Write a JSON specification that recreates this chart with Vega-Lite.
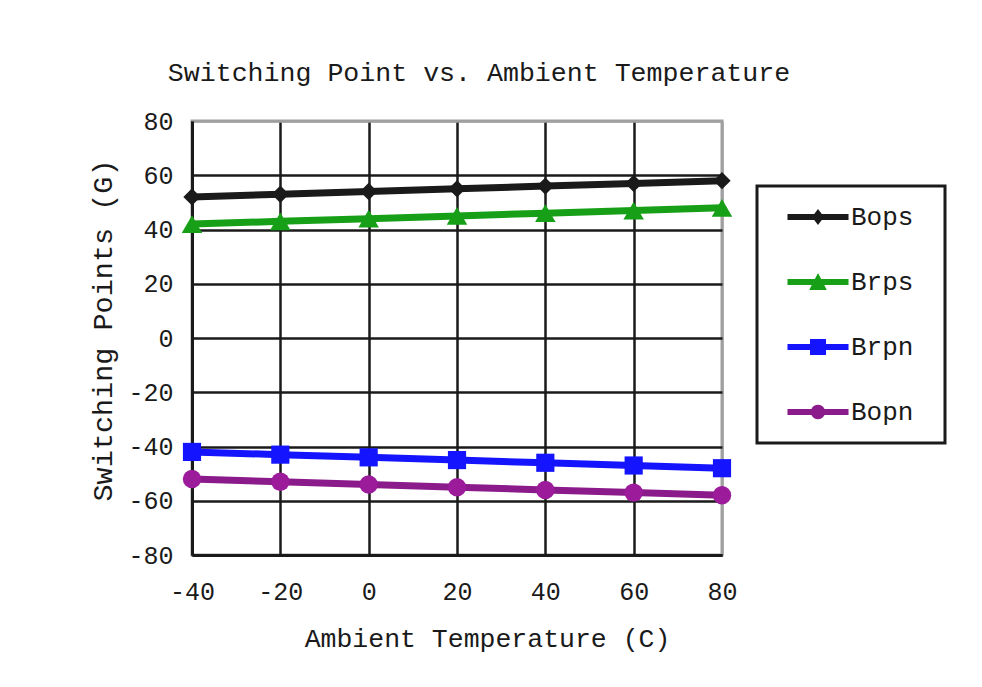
{
  "$schema": "https://vega.github.io/schema/vega-lite/v6.json",
  "width": 530,
  "height": 434,
  "autosize": {"type": "none"},
  "padding": {"left": 192, "top": 121, "right": 260, "bottom": 132},
  "background": "white",
  "title": {
    "text": "Switching Point vs. Ambient Temperature",
    "font": "Liberation Mono",
    "fontSize": 26.6,
    "fontWeight": "normal",
    "color": "#1a1a1a",
    "anchor": "middle",
    "dx": 22,
    "offset": 1,
    "baseline": "alphabetic"
  },
  "config": {
    "view": {"stroke": "#a0a0a0", "strokeWidth": 3},
    "font": "Liberation Mono",
    "axis": {
      "labelFont": "Liberation Mono",
      "labelFontSize": 25,
      "labelColor": "#1a1a1a",
      "labelFlush": false,
      "labelExpr": "toString(datum.value)",
      "titleFont": "Liberation Mono",
      "titleFontSize": 26.5,
      "titleFontWeight": "normal",
      "titleColor": "#1a1a1a",
      "domainColor": "#1a1a1a",
      "domainWidth": 3,
      "ticks": false,
      "grid": true,
      "gridWidth": 2.5,
      "gridOpacity": 1
    }
  },
  "data": {
    "values": [
      {"temp": -40, "series": "Bops", "value": 52},
      {"temp": -20, "series": "Bops", "value": 53},
      {"temp": 0, "series": "Bops", "value": 54},
      {"temp": 20, "series": "Bops", "value": 55},
      {"temp": 40, "series": "Bops", "value": 56},
      {"temp": 60, "series": "Bops", "value": 57},
      {"temp": 80, "series": "Bops", "value": 58},
      {"temp": -40, "series": "Brps", "value": 42},
      {"temp": -20, "series": "Brps", "value": 43},
      {"temp": 0, "series": "Brps", "value": 44},
      {"temp": 20, "series": "Brps", "value": 45},
      {"temp": 40, "series": "Brps", "value": 46},
      {"temp": 60, "series": "Brps", "value": 47},
      {"temp": 80, "series": "Brps", "value": 48},
      {"temp": -40, "series": "Brpn", "value": -42},
      {"temp": -20, "series": "Brpn", "value": -43},
      {"temp": 0, "series": "Brpn", "value": -44},
      {"temp": 20, "series": "Brpn", "value": -45},
      {"temp": 40, "series": "Brpn", "value": -46},
      {"temp": 60, "series": "Brpn", "value": -47},
      {"temp": 80, "series": "Brpn", "value": -48},
      {"temp": -40, "series": "Bopn", "value": -52},
      {"temp": -20, "series": "Bopn", "value": -53},
      {"temp": 0, "series": "Bopn", "value": -54},
      {"temp": 20, "series": "Bopn", "value": -55},
      {"temp": 40, "series": "Bopn", "value": -56},
      {"temp": 60, "series": "Bopn", "value": -57},
      {"temp": 80, "series": "Bopn", "value": -58}
    ]
  },
  "encoding": {
    "x": {
      "field": "temp",
      "type": "quantitative",
      "scale": {"domain": [-40, 80], "nice": false},
      "axis": {
        "values": [-40, -20, 0, 20, 40, 60, 80],
        "title": "Ambient Temperature (C)",
        "labelPadding": 24,
        "titleX": 295,
        "titleY": 91,
        "titleBaseline": "alphabetic",
        "titleAlign": "center",
        "gridColor": {"condition": {"test": "datum.value === 80", "value": "#a0a0a0"}, "value": "#1a1a1a"}
      }
    },
    "y": {
      "field": "value",
      "type": "quantitative",
      "scale": {"domain": [-80, 80], "nice": false},
      "axis": {
        "values": [-80, -60, -40, -20, 0, 20, 40, 60, 80],
        "title": "Switching Points (G)",
        "titleFontSize": 28.5,
        "labelPadding": 19,
        "titleX": -81,
        "titleY": 209,
        "titleAngle": -90,
        "titleBaseline": "alphabetic",
        "titleAlign": "center",
        "gridColor": {"condition": {"test": "datum.value === 80", "value": "#a0a0a0"}, "value": "#1a1a1a"}
      }
    }
  },
  "layer": [
    {
      "mark": {"type": "line", "strokeWidth": 7},
      "encoding": {
        "color": {
          "field": "series",
          "type": "nominal",
          "scale": {"domain": ["Bops", "Brps", "Brpn", "Bopn"], "range": ["#1a1a1a", "#17a017", "#1414ff", "#8b1a8b"]},
          "legend": {
            "title": null,
            "orient": "none",
            "legendX": 565,
            "legendY": 65,
            "strokeColor": "#1a1a1a",
            "fillColor": "white",
            "padding": 18,
            "rowPadding": 39,
            "symbolOffset": 30,
            "labelOffset": 20,
            "symbolSize": 196,
            "symbolStrokeWidth": 0,
            "labelFont": "Liberation Mono",
            "labelFontSize": 26,
            "labelColor": "#1a1a1a",
            "encode": {
              "legend": {
                "update": {
                  "strokeWidth": {"value": 3}
                }
              },
              "symbols": {
                "update": {
                  "shape": {"signal": "datum.value === 'Bops' ? 'M-4.36,-0.43H4.36V0.43H-4.36Z M0,-1.14L0.86,0L0,1.14L-0.86,0Z M15.5,0' : datum.value === 'Brps' ? 'M-4.36,-0.43H4.36V0.43H-4.36Z M0,-1.29L1.26,1.14L-1.26,1.14Z M15.5,0' : datum.value === 'Brpn' ? 'M-4.36,-0.43H4.36V0.43H-4.36Z M-1.14,-1.14H1.14V1.14H-1.14Z M15.5,0' : 'M-4.36,-0.43H4.36V0.43H-4.36Z M-1.03,0A1.03,1.03 0 1,1 1.03,0A1.03,1.03 0 1,1 -1.03,0Z M15.5,0'"},
                  "fill": {"signal": "scale('color', datum.value)"},
                  "stroke": {"value": "transparent"},
                  "strokeWidth": {"value": 0},
                  "opacity": {"value": 1}
                }
              }
            }
          }
        }
      }
    },
    {
      "transform": [{"filter": "datum.series === 'Bops'"}],
      "mark": {"type": "point", "filled": true, "shape": "diamond", "size": 300, "color": "#1a1a1a", "opacity": 1}
    },
    {
      "transform": [{"filter": "datum.series === 'Brps'"}],
      "mark": {"type": "point", "filled": true, "shape": "triangle-up", "size": 420, "color": "#17a017", "opacity": 1}
    },
    {
      "transform": [{"filter": "datum.series === 'Brpn'"}],
      "mark": {"type": "point", "filled": true, "shape": "square", "size": 330, "color": "#1414ff", "opacity": 1}
    },
    {
      "transform": [{"filter": "datum.series === 'Bopn'"}],
      "mark": {"type": "point", "filled": true, "shape": "circle", "size": 340, "color": "#9b1b9b", "opacity": 1}
    }
  ]
}
